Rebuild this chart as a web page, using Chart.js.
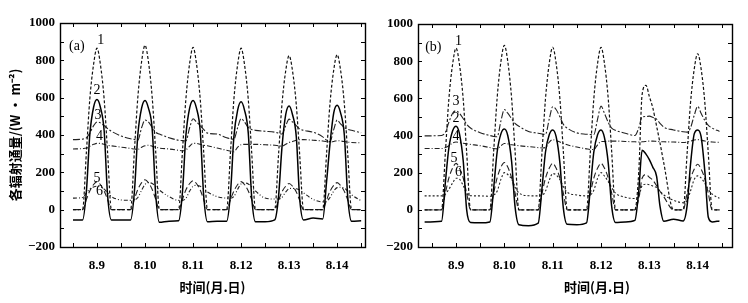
<!DOCTYPE html>
<html><head><meta charset="utf-8">
<script src="https://cdn.jsdelivr.net/npm/chart.js@4.4.1/dist/chart.umd.min.js"></script>
<style>
html,body{margin:0;padding:0;background:#fff;}
#wrap{position:relative;width:748px;height:303px;overflow:hidden;background:#fff;}
canvas{position:absolute;top:0;}
#ca{left:0;} #cb{left:370px;}
</style></head><body>
<div id="wrap"><canvas id="ca" width="380" height="303"></canvas><canvas id="cb" width="378" height="303"></canvas></div>
<script>
// ---- categories / ticks ----
const xTickValues = [-0.5,0,0.5,1,1.5,2,2.5,3,3.5,4,4.5,5,5.5];
const xTickLabels = ['8.9','8.10','8.11','8.12','8.13','8.14'];
const yTickValues = [-200,-100,0,100,200,300,400,500,600,700,800,900,1000];
const yTickLabels = ['\u2212200','0','200','400','600','800','1000'];
const xTitle = '时间(月.日)';
const yTitle = '各辐射通量/(W · m\u207B\u00B2)';
const seriesNames = ['1','2','3','4','5','6'];

// ---- time (days after 8.9 noon) ----
const timeA = [-0.5,-0.3,-0.22,-0.15,-0.07,0,0.07,0.15,0.22,0.3, 0.5,0.7,0.78,0.85,0.93,1,1.07,1.15,1.22,1.3, 1.5,1.7,1.78,1.85,1.93,2,2.07,2.15,2.22,2.3, 2.5,2.7,2.78,2.85,2.93,3,3.07,3.15,3.22,3.3, 3.5,3.7,3.78,3.85,3.93,4,4.07,4.15,4.22,4.3, 4.5,4.7,4.78,4.85,4.93,5,5.07,5.15,5.22,5.3, 5.5];
const timeB = [-0.65,-0.3,-0.22,-0.15,-0.07,0,0.07,0.15,0.22,0.3, 0.5,0.7,0.78,0.85,0.93,1,1.07,1.15,1.22,1.3, 1.5,1.7,1.78,1.85,1.93,2,2.07,2.15,2.22,2.3, 2.5,2.7,2.78,2.85,2.93,3,3.07,3.15,3.22,3.3, 3.5,3.7,3.78,3.85,3.93,4,4.07,4.15,4.22,4.3, 4.5,4.7,4.78,4.85,4.93,5,5.07,5.15,5.22,5.3, 5.45];

// ---- panel (a) series ----
const a1 = [0,0,310,590,780,865,780,590,310,0, 0,0,320,600,795,880,795,600,320,0, 0,0,315,590,785,870,785,590,315,0, 0,0,310,590,780,865,780,590,310,0, 0,0,295,560,745,825,745,560,295,0, 0,0,300,565,750,830,750,565,300,0, 0];
const a2 = [-55,-55,100,400,550,590,550,420,80,-55, -55,-55,100,400,545,585,545,430,90,-68, -62,-60,95,395,545,585,545,420,80,-65, -62,-62,90,390,535,578,535,410,70,-65, -65,-55,70,330,510,555,510,390,60,-55, -45,-50,150,350,520,560,520,400,70,-62, -60];
const a3 = [375,378,385,410,450,470,465,450,435,420, 395,380,376,372,440,480,470,440,415,405, 385,372,370,368,440,487,470,450,430,410, 405,385,380,378,440,488,470,440,430,425, 420,415,410,405,450,485,470,450,432,425, 415,390,372,365,430,480,460,440,430,425, 412];
const a4 = [325,327,330,340,350,355,355,350,345,342, 335,328,325,323,335,342,345,340,335,330, 325,318,315,320,340,355,355,350,345,342, 330,318,314,310,335,348,350,350,350,350, 348,345,342,340,350,360,365,372,375,375, 372,368,365,362,365,370,368,365,362,360, 358];
const a5 = [0,0,55,100,135,150,135,100,55,0, 0,0,58,108,145,160,145,108,58,0, 0,0,56,105,140,155,140,105,56,0, 0,0,55,100,135,150,135,100,55,0, 0,0,50,95,126,140,126,95,50,0, 0,0,52,98,130,145,130,98,52,0, 0];
const a6 = [62,65,90,110,122,126,122,110,90,70, 52,50,52,65,105,135,145,140,125,105, 70,50,50,60,100,125,130,125,112,95, 70,62,62,70,110,138,143,138,122,100, 62,57,57,65,95,112,114,112,105,90, 55,42,45,65,100,118,120,115,100,80, 48];

// ---- panel (b) series ----
const b1 = [0,0,310,590,785,870,785,590,310,0, 0,0,320,600,800,885,800,600,320,0, 0,0,315,595,790,875,790,595,315,0, 0,0,315,595,790,875,790,595,315,0, 0,0,200,620,670,610,550,450,360,250, 0,0,300,570,760,840,760,570,300,0, 0];
const b2 = [-66,-62,150,330,425,450,410,260,0,-68, -70,-65,120,310,410,435,400,260,20,-80, -85,-72,120,310,405,430,395,250,10,-78, -80,-70,120,310,405,430,390,250,20,-68, -65,-57,100,320,300,270,230,180,20,-62, -50,-60,20,240,410,430,395,200,-40,-65, -60];
const b3 = [398,400,418,470,520,533,520,490,460,440, 415,400,395,393,480,540,520,490,465,450, 422,412,408,406,490,555,540,500,460,440, 414,407,405,405,490,558,520,470,440,428, 412,400,440,500,502,504,498,488,465,445, 430,420,418,440,510,557,520,480,455,440, 422];
const b4 = [330,330,335,345,360,365,362,358,355,352, 345,335,330,328,345,357,355,350,348,345, 340,335,333,335,365,378,372,365,358,350, 338,328,325,325,350,368,368,370,370,370, 368,366,365,366,368,370,370,368,367,366, 365,362,365,370,376,378,375,370,367,365, 363];
const b5 = [0,0,90,170,225,250,225,170,90,0, 0,0,92,172,230,255,230,172,92,0, 0,0,90,170,225,250,225,170,90,0, 0,0,90,170,225,250,225,170,90,0, 0,0,60,170,190,175,160,130,100,70, 0,0,88,165,220,245,220,165,88,0, 0];
const b6 = [75,75,85,110,145,170,165,130,90,76, 75,73,80,100,165,200,190,165,125,92, 76,75,78,100,160,195,188,162,125,95, 80,75,80,105,170,200,182,152,120,90, 68,61,70,130,138,135,128,120,100,80, 52,38,50,100,165,183,172,142,110,85, 62];

// ---- in-plot labels (data coordinates) ----
const labelTextA = ['(a)','1','2','3','4','5','6'];
const labelDayA  = [-0.42,0.08,0.0,0.02,0.05,0.0,0.05];
const labelValA  = [873,905,637,503,391,166,96];
const labelTextB = ['(b)','1','3','2','4','5','6'];
const labelDayB  = [-0.47,0.05,0.0,0.0,0.0,-0.04,0.05];
const labelValB  = [875,908,585,494,397,278,203];

// ---- styles ----
const dashA = [[3,2],[],[7,2,2,2],[5,2,1,2],[6,3],[4,2,1,2,1,2]];
const dashB = [[3,2],[],[7,2,2,2],[5,2,1,2],[6,3],[2,2]];
const widths = [1.2,1.5,1.1,1.1,1.1,1.1];
const colors = ['#111','#000','#222','#222','#222','#222'];

const framePlugin = {
  id:'frame',
  afterDraw(chart){
    const {ctx, chartArea:a, scales:{x,y}} = chart;
    ctx.save();
    ctx.strokeStyle='#000'; ctx.lineWidth=1.4;
    ctx.strokeRect(a.left+0.5, a.top+0.5, a.right-a.left, a.bottom-a.top);
    ctx.lineWidth=1;
    ctx.beginPath();
    x.ticks.forEach(t=>{const px=Math.round(x.getPixelForValue(t.value))+0.5;
      ctx.moveTo(px,a.bottom); ctx.lineTo(px,a.bottom-4);
      ctx.moveTo(px,a.top); ctx.lineTo(px,a.top+4);});
    y.ticks.forEach(t=>{const py=Math.round(y.getPixelForValue(t.value))+0.5;
      ctx.moveTo(a.left,py); ctx.lineTo(a.left+4,py);
      ctx.moveTo(a.right,py); ctx.lineTo(a.right-4,py);});
    ctx.stroke();
    ctx.restore();
  }
};
const labelPlugin = {
  id:'curveLabels',
  afterDatasetsDraw(chart, args, opts){
    const {ctx, chartArea:a, scales:{x,y}} = chart;
    ctx.save();
    ctx.fillStyle='#000'; ctx.textAlign='center'; ctx.textBaseline='middle';
    ctx.font = '14px "Liberation Serif", serif';
    opts.texts.forEach((t,i)=>ctx.fillText(t, x.getPixelForValue(opts.days[i]), y.getPixelForValue(opts.vals[i])));
    if (opts.xTitleText){
      ctx.font = 'bold 13px "Noto Sans CJK SC", sans-serif';
      ctx.fillText(opts.xTitleText, (a.left+a.right)/2 + opts.xTitleDX, opts.xTitleY);
    }
    ctx.restore();
  }
};

const tickFont = {family:'"Liberation Serif", serif', weight:'bold', size:13};
const cjkFont = {family:'"Noto Sans CJK SC", sans-serif', weight:'bold', size:13};

function makeChart(id, time, series, dashes, cfg){
  const datasets = series.map((s,i)=>({
    label: seriesNames[i],
    data: s.map((v,k)=>({x:time[k], y:v})),
    borderColor: colors[i], borderWidth: widths[i], borderDash: dashes[i],
    pointRadius:0, fill:false, cubicInterpolationMode:'monotone'
  }));
  return new Chart(document.getElementById(id), {
    type:'line',
    data:{datasets},
    options:{
      responsive:false, animation:false, devicePixelRatio:1,
      layout:{padding:cfg.padding},
      plugins:{legend:{display:false}, tooltip:{enabled:false},
        curveLabels:{texts:cfg.texts, days:cfg.days, vals:cfg.vals,
          xTitleText:cfg.customXTitle ? xTitle : null, xTitleDX:cfg.xTitleDX||0, xTitleY:287}},
      scales:{
        x:{type:'linear', min:cfg.xmin, max:cfg.xmax,
          afterFit(s){s.height=56;},
          afterBuildTicks(s){s.ticks = xTickValues.map(v=>({value:v}));},
          grid:{display:false, drawTicks:false}, border:{display:false},
          ticks:{autoSkip:false, maxRotation:0, padding:11, color:'#000', font:tickFont,
            callback:(v)=>{const r=Math.round(v); return Math.abs(v-r)<1e-6 && r>=0 && r<xTickLabels.length ? xTickLabels[r] : '';}},
          title:{display:!cfg.customXTitle, text:xTitle, color:'#000', font:cjkFont, padding:{top:0,bottom:8}}
        },
        y:{type:'linear', min:-200, max:1000,
          afterFit(s){s.width=cfg.yWidth;},
          afterBuildTicks(s){s.ticks = yTickValues.map(v=>({value:v}));},
          grid:{display:false, drawTicks:false}, border:{display:false},
          ticks:{autoSkip:false, padding:5, color:'#000', font:tickFont,
            callback:(v)=> (v % 200 === 0) ? yTickLabels[(v+200)/200] : ''},
          title:{display:cfg.showYTitle, text:yTitle, color:'#000', font:cjkFont, padding:{top:7,bottom:0}}
        }
      }
    },
    plugins:[framePlugin, labelPlugin]
  });
}

makeChart('ca', timeA, [a1,a2,a3,a4,a5,a6], dashA, {
  padding:{left:0, top:23, right:15, bottom:0}, xmin:-0.77, xmax:5.58, yWidth:60,
  showYTitle:true, customXTitle:false, texts:labelTextA, days:labelDayA, vals:labelValA});
makeChart('cb', timeB, [b1,b2,b3,b4,b5,b6], dashB, {
  padding:{left:0, top:24, right:16, bottom:0}, xmin:-0.787, xmax:5.71, yWidth:48,
  showYTitle:false, customXTitle:true, xTitleDX:22, texts:labelTextB, days:labelDayB, vals:labelValB});
</script>
</body></html>
